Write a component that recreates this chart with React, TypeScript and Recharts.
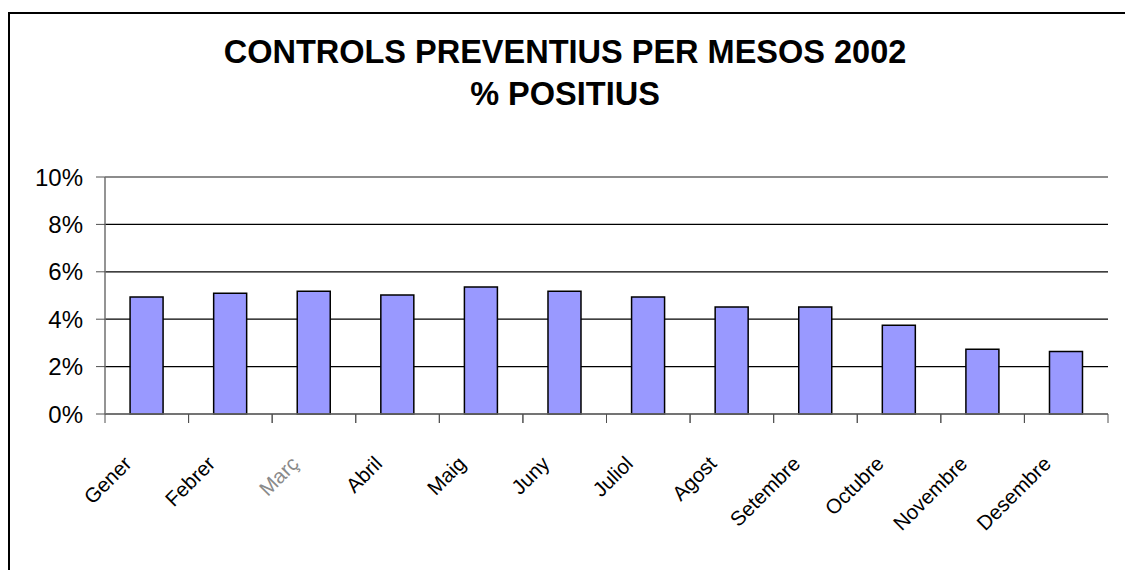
import React from 'react';
import { BarChart, Bar, XAxis, YAxis, CartesianGrid, ReferenceLine } from 'recharts';

const months = ['Gener', 'Febrer', 'Març', 'Abril', 'Maig', 'Juny', 'Juliol', 'Agost', 'Setembre', 'Octubre', 'Novembre', 'Desembre'];
const positius = [0.0494, 0.0509, 0.0518, 0.0502, 0.0536, 0.0518, 0.0494, 0.0452, 0.0452, 0.0374, 0.0273, 0.0264];
const yTicks = [0, 0.02, 0.04, 0.06, 0.08, 0.1];
const titleLines = ['CONTROLS PREVENTIUS PER MESOS 2002', '% POSITIUS'];

const data = months.map((m, i) => ({ month: m, value: positius[i] }));

const FONT = 'Arial, "Liberation Sans", sans-serif';
const TICK_LEN = 9;

const MonthTick = (props: any) => {
  const { x, y, payload } = props;
  const half = Number(payload && payload.offset) || 0;
  const faded = payload.value === 'Març';
  return (
    <g>
      {half > 0 && (
        <>
          <line x1={x - half} x2={x - half} y1={y} y2={y + TICK_LEN} stroke="#505050" strokeWidth={1} />
          <line x1={x + half} x2={x + half} y1={y} y2={y + TICK_LEN} stroke="#505050" strokeWidth={1} />
        </>
      )}
      <g transform={`translate(${x - 14},${y + 51})`}>
        <text
          x={0}
          y={0}
          transform="rotate(-45)"
          textAnchor="end"
          fontFamily={FONT}
          fontSize={20.5}
          fill={faded ? '#8a8a8a' : '#000'}
        >
          {payload.value}
        </text>
      </g>
    </g>
  );
};

export default function App() {
  return (
    <div style={{ position: 'absolute', left: 0, top: 0, width: 1125, height: 570, overflow: 'hidden', background: '#fff' }}>
      <div style={{ position: 'absolute', left: 8, top: 12, width: 1300, height: 800, border: '2px solid #000' }} />
      <div
        style={{
          position: 'absolute',
          left: 0,
          top: 31,
          width: 1130,
          textAlign: 'center',
          fontFamily: FONT,
          fontWeight: 'bold',
          fontSize: 32.5,
          lineHeight: '42px',
          color: '#000',
        }}
      >
        {titleLines.map((t) => (
          <div key={t}>{t}</div>
        ))}
      </div>
      <div style={{ position: 'absolute', left: 0, top: 0 }}>
        <BarChart
          width={1125}
          height={570}
          data={data}
          margin={{ top: 177, right: 17, bottom: 0, left: 0 }}
          barCategoryGap="30%"
        >
          <CartesianGrid vertical={false} stroke="#000" strokeWidth={1.2} />
          <XAxis
            dataKey="month"
            height={156}
            axisLine={{ stroke: '#707070', strokeWidth: 1.5 }}
            tickLine={false}
            tickSize={0}
            tickMargin={0}
            interval={0}
            tick={<MonthTick />}
          />
          <YAxis
            domain={[0, 0.1]}
            ticks={yTicks}
            width={105}
            tickSize={9}
            tickMargin={13}
            tickFormatter={(v: number) => `${Math.round(v * 100)}%`}
            tick={{ fontFamily: FONT, fontSize: 24, fill: '#000' }}
            axisLine={{ stroke: '#707070', strokeWidth: 1.5 }}
            tickLine={{ stroke: '#505050' }}
          />
          <YAxis
            yAxisId="right"
            orientation="right"
            domain={[0, 0.1]}
            width={0}
            tick={false}
            tickLine={false}
            axisLine={{ stroke: '#808080', strokeWidth: 1.5 }}
          />
          <ReferenceLine y={0.1} stroke="#909090" strokeWidth={1.5} />
          <Bar dataKey="value" fill="#9999FF" stroke="#000" strokeWidth={1.5} isAnimationActive={false} />
        </BarChart>
      </div>
    </div>
  );
}
